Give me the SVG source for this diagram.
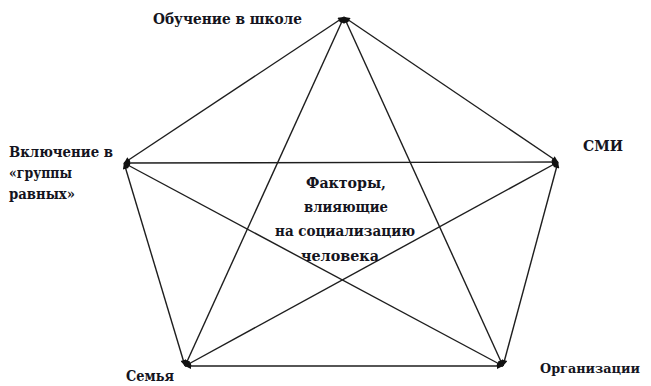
<svg xmlns="http://www.w3.org/2000/svg" width="651" height="386" viewBox="0 0 651 386">
<style>
.t{font-family:"DejaVu Serif","Liberation Serif","Times New Roman",serif;font-weight:bold;font-size:15px;fill:#141420}
.c{text-anchor:middle}
.e{stroke:#1e1e1e;stroke-width:1.4;fill:none;marker-start:url(#ah);marker-end:url(#ah)}
</style>
<defs>
<marker id="ah" viewBox="0 0 10 10" refX="10" refY="5" markerWidth="8" markerHeight="6" markerUnits="userSpaceOnUse" orient="auto-start-reverse">
<path d="M0,0 L10,5 L0,10 Z" fill="#111"/>
</marker>
</defs>
<g id="connectors">
<line class="e" x1="344" y1="17" x2="124" y2="163"/>
<line class="e" x1="344" y1="17" x2="558" y2="162"/>
<line class="e" x1="344" y1="17" x2="185" y2="366"/>
<line class="e" x1="344" y1="17" x2="503" y2="366"/>
<line class="e" x1="124" y1="163" x2="558" y2="162"/>
<line class="e" x1="124" y1="163" x2="503" y2="366"/>
<line class="e" x1="124" y1="163" x2="185" y2="366"/>
<line class="e" x1="558" y1="162" x2="185" y2="366"/>
<line class="e" x1="558" y1="162" x2="503" y2="366"/>
<line class="e" x1="185" y1="366" x2="503" y2="366"/>
</g>
<g id="node-school"><text class="t" x="153" y="24" textLength="149" lengthAdjust="spacingAndGlyphs">Обучение в школе</text></g>
<g id="node-peers">
<text class="t" x="9" y="157" textLength="104" lengthAdjust="spacingAndGlyphs">Включение в</text>
<text class="t" x="9" y="178" textLength="63" lengthAdjust="spacingAndGlyphs">«группы</text>
<text class="t" x="9" y="199" textLength="66" lengthAdjust="spacingAndGlyphs">равных»</text>
</g>
<g id="node-media"><text class="t" x="583" y="151" textLength="40" lengthAdjust="spacingAndGlyphs">СМИ</text></g>
<g id="node-family"><text class="t" x="126" y="381" textLength="48" lengthAdjust="spacingAndGlyphs">Семья</text></g>
<g id="node-orgs"><text class="t" x="540" y="373" style="font-size:13px" textLength="100" lengthAdjust="spacingAndGlyphs">Организации</text></g>
<g id="node-center">
<text class="t c" x="346" y="188" textLength="80" lengthAdjust="spacingAndGlyphs">Факторы,</text>
<text class="t c" x="346" y="212" textLength="84" lengthAdjust="spacingAndGlyphs">влияющие</text>
<text class="t c" x="345" y="236" textLength="140" lengthAdjust="spacingAndGlyphs">на социализацию</text>
<text class="t c" x="340" y="261" textLength="78" lengthAdjust="spacingAndGlyphs">человека</text>
</g>
</svg>
